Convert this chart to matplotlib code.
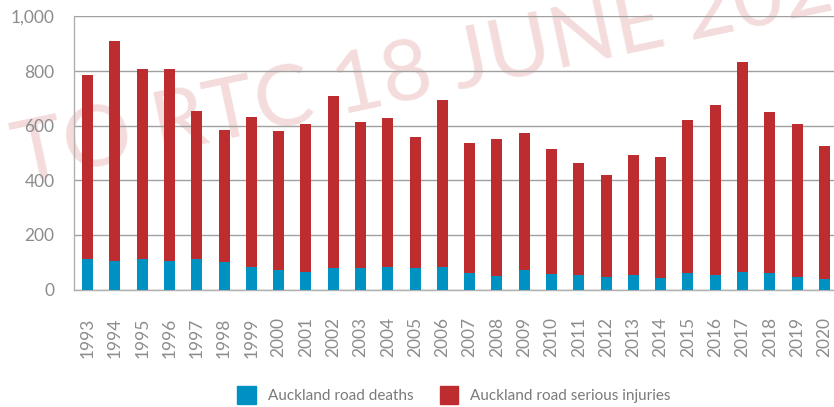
import matplotlib
matplotlib.use("Agg")
from matplotlib import pyplot as plt
from matplotlib.patches import Patch

plt.rcParams['font.family'] = ['Lato', 'DejaVu Sans']

# data
years = [str(y) for y in range(1993, 2021)]
deaths = [112, 104, 111, 104, 111, 99, 84, 70, 63, 77, 77, 84, 77, 84,
          60, 51, 70, 57, 52, 45, 52, 41, 60, 52, 63, 60, 45, 38]
totals = [786, 909, 807, 807, 653, 586, 633, 580, 608, 708, 612, 629, 560, 695,
          535, 552, 575, 513, 462, 421, 492, 486, 621, 675, 835, 651, 608, 524]
injuries = [t - d for t, d in zip(totals, deaths)]
yticks = [0, 200, 400, 600, 800, 1000]
ytick_labels = ['0', '200', '400', '600', '800', '1,000']

blue = '#0091C3'
red = '#BD2D30'
grey = '#8c8c8c'

fig = plt.figure(figsize=(8.34, 4.07), dpi=100)
ax = fig.add_axes([74 / 834, 1 - 289.5 / 407, (838 - 74) / 834, (289.5 - 16.5) / 407])

x = range(len(years))
ax.bar(x, deaths, width=0.4, color=blue, zorder=3, linewidth=0)
ax.bar(x, injuries, width=0.4, bottom=deaths, color=red, zorder=3, linewidth=0)

ax.set_xlim(-0.5, len(years) - 0.5)
ax.set_ylim(0, 1000)
ax.set_yticks(yticks)
ax.set_yticklabels(ytick_labels)
ax.set_xticks(list(x))
ax.set_xticklabels(years, rotation=90)
ax.tick_params(axis='both', length=0, colors=grey, labelsize=12.5)
ax.tick_params(axis='y', pad=14)
ax.tick_params(axis='x', pad=20)
ax.yaxis.grid(True, color='#a0a0a0', linewidth=1, zorder=1)
ax.set_axisbelow(True)
for s in ['top', 'right']:
    ax.spines[s].set_visible(False)
for s in ['left', 'bottom']:
    ax.spines[s].set_color('#b0b0b0')
    ax.spines[s].set_linewidth(1)
ax.patch.set_alpha(0)

# watermark, behind the axes
fig.text(20 / 834, 1 - 184 / 407, 'TO RTC 18 JUNE 2021', fontsize=62,
         color='#F4DCDC', rotation=12,
         rotation_mode='anchor', ha='left', va='baseline', zorder=-1)

handles = [Patch(color=blue, label='Auckland road deaths'),
           Patch(color=red, label='Auckland road serious injuries')]
fig.legend(handles=handles, loc='center', bbox_to_anchor=(454 / 834, 1 - 395 / 407),
           ncol=2, frameon=False, fontsize=11, labelcolor='#7a7a7a',
           handlelength=1.2, handleheight=1.4, handletextpad=0.8, columnspacing=1.7)

plt.savefig('out.png', dpi=100)
